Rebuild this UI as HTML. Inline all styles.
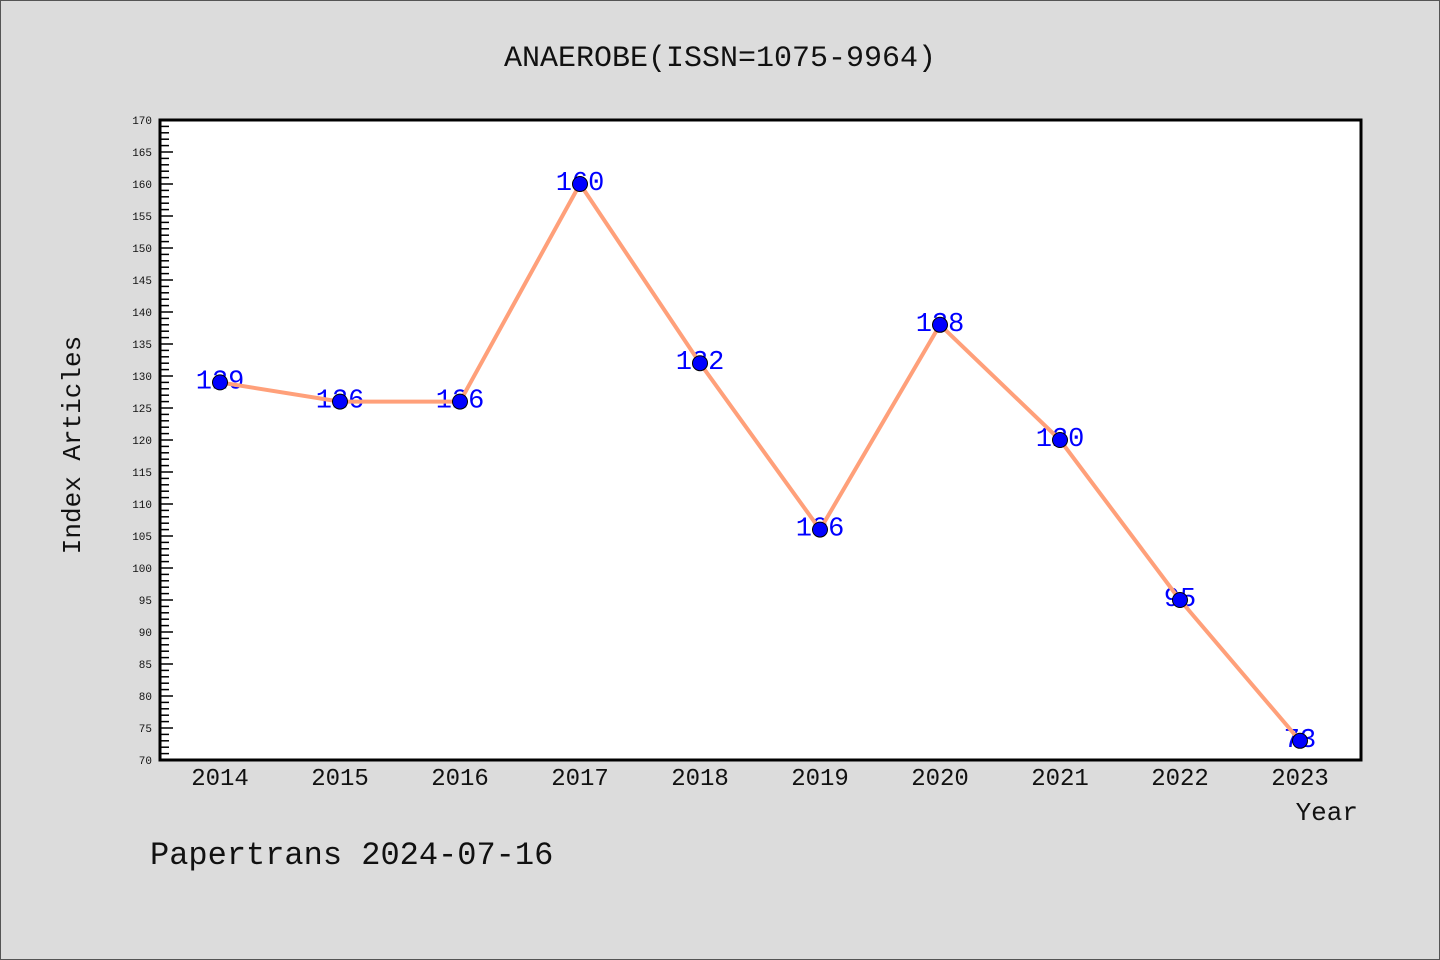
<!DOCTYPE html>
<html><head><meta charset="utf-8"><style>
html,body{margin:0;padding:0;background:#dcdcdc;}
svg{display:block;font-family:"Liberation Mono","DejaVu Sans Mono",monospace;}
</style></head><body>
<svg id="c" width="1440" height="960">
<rect x="0.5" y="0.5" width="1439" height="959" fill="#dcdcdc" stroke="#555"/>
<text x="720" y="66" text-anchor="middle" font-size="30" fill="#111">ANAEROBE(ISSN=1075-9964)</text>
<rect x="160" y="120" width="1201" height="640" fill="#fff"/>
<g id="ticks"></g>
<g id="xt"></g>
<g id="labels"></g>
<polyline id="line" fill="none" stroke="#ffa07a" stroke-width="4" stroke-linejoin="round"/>
<g id="dots"></g>
<rect x="160" y="120" width="1201" height="640" fill="none" stroke="#000" stroke-width="3"/>
<text x="80" y="445" transform="rotate(-90 80 445)" text-anchor="middle" font-size="26" fill="#111">Index Articles</text>
<text x="1358" y="820" text-anchor="end" font-size="26" fill="#111">Year</text>
<text x="150" y="864" font-size="32" fill="#111">Papertrans 2024-07-16</text>
</svg>
<script>
const years=["2014","2015","2016","2017","2018","2019","2020","2021","2022","2023"];
const values=[129,126,126,160,132,106,138,120,95,73];
const yMin=70,yMax=170;
const NS="http://www.w3.org/2000/svg";
function xS(i){return 220+i*120;}
function yS(v){return 760-(v-yMin)*640/(yMax-yMin);}
function mk(t,a,p){const e=document.createElementNS(NS,t);for(const k in a)e.setAttribute(k,a[k]);p.appendChild(e);return e;}
const tg=document.getElementById('ticks');
for(let v=yMin;v<=yMax;v++){
  const y=yS(v),major=v%5===0;
  const l=mk('line',{x1:160,x2:major?173:169,y1:y,y2:y,stroke:'#000','stroke-width':1.5},tg);
  
  
  if(major){const t=mk('text',{x:152,y:y+4,'text-anchor':'end','font-size':11,fill:'#111'},tg);t.textContent=v;
  
  }
}
const xg=document.getElementById('xt'),lg=document.getElementById('labels'),dg=document.getElementById('dots');
const pts=[];
years.forEach((yr,i)=>{
  const x=xS(i),y=yS(values[i]);pts.push(x+','+y);
  const t=mk('text',{x:x,y:785,'text-anchor':'middle','font-size':24,fill:'#111'},xg);t.textContent=yr;
  
  
  const l=mk('text',{x:x,y:y+6,'text-anchor':'middle','font-size':27,fill:'#0000ff'},lg);l.textContent=values[i];
  
  
  const c=mk('circle',{cx:x,cy:y,r:7.5,fill:'#0000ff',stroke:'#000','stroke-width':1},dg);
  
  
});
document.getElementById('line').setAttribute('points',pts.join(' '));
</script>
</body></html>
